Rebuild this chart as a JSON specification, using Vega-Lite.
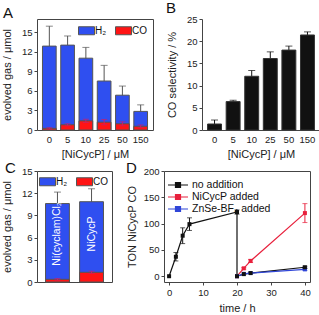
{
  "$schema": "https://vega.github.io/schema/vega-lite/v6.json",
  "padding": {"left": 0, "top": 1, "right": 0, "bottom": 0},
  "background": "white",
  "config": {
    "font": "Liberation Sans",
    "view": {"stroke": "#444", "strokeWidth": 1},
    "axis": {"labelFont": "Liberation Sans", "titleFont": "Liberation Sans", "labelFontSize": 9.5, "titleFontSize": 11, "titleFontWeight": "normal", "labelColor": "#222", "titleColor": "#222", "tickColor": "#444", "domainColor": "#444", "tickSize": 3, "labelPadding": 2, "grid": false, "labelOverlap": false},
    "title": {"fontSize": 15, "fontWeight": "normal", "anchor": "start", "frame": "group", "color": "#111", "font": "Liberation Sans"},
    "legend": {"labelFontSize": 10, "labelFont": "Liberation Sans", "labelColor": "#111"}
  },
  "datasets": {
    "a": [
      {"conc": "0", "total": 12.85, "totalErr": 3.05, "co": 0.25, "coErr": 0.1},
      {"conc": "5", "total": 13.0, "totalErr": 1.4, "co": 0.8, "coErr": 0.15},
      {"conc": "10", "total": 11.0, "totalErr": 1.65, "co": 1.4, "coErr": 0.25},
      {"conc": "25", "total": 7.5, "totalErr": 2.4, "co": 1.2, "coErr": 0.4},
      {"conc": "50", "total": 5.33, "totalErr": 1.4, "co": 0.95, "coErr": 0.3},
      {"conc": "150", "total": 2.85, "totalErr": 1.0, "co": 0.57, "coErr": 0.2}
    ],
    "b": [
      {"conc": "0", "sel": 1.35, "err": 0.9},
      {"conc": "5", "sel": 6.4, "err": 0.3},
      {"conc": "10", "sel": 12.1, "err": 1.3},
      {"conc": "25", "sel": 16.1, "err": 1.5},
      {"conc": "50", "sel": 18.0, "err": 0.9},
      {"conc": "150", "sel": 21.4, "err": 0.7}
    ],
    "c": [
      {"cat": "Ni(cyclam)Cl₂", "total": 10.6, "totalErr": 1.55, "co": 0.36, "coErr": 0.1},
      {"cat": "NiCycP", "total": 10.85, "totalErr": 1.75, "co": 1.31, "coErr": 0.15}
    ],
    "d": [
      {"series": "no addition", "i": 0, "t": 0, "ton": 0, "err": 0},
      {"series": "no addition", "i": 1, "t": 2, "ton": 37, "err": 8},
      {"series": "no addition", "i": 2, "t": 4, "ton": 77, "err": 15},
      {"series": "no addition", "i": 3, "t": 6, "ton": 99, "err": 12},
      {"series": "no addition", "i": 4, "t": 20, "ton": 122, "err": 4},
      {"series": "no addition", "i": 5, "t": 20, "ton": 0, "err": 0},
      {"series": "no addition", "i": 6, "t": 22, "ton": 4, "err": 0},
      {"series": "no addition", "i": 7, "t": 24, "ton": 6, "err": 0},
      {"series": "no addition", "i": 8, "t": 40, "ton": 17, "err": 2},
      {"series": "NiCycP added", "i": 0, "t": 20, "ton": 0, "err": 0},
      {"series": "NiCycP added", "i": 1, "t": 22, "ton": 15, "err": 1.5},
      {"series": "NiCycP added", "i": 2, "t": 24, "ton": 29, "err": 3},
      {"series": "NiCycP added", "i": 3, "t": 40, "ton": 120, "err": 18},
      {"series": "ZnSe-BF₄ added", "i": 0, "t": 20, "ton": 0, "err": 0},
      {"series": "ZnSe-BF₄ added", "i": 1, "t": 22, "ton": 4.5, "err": 0},
      {"series": "ZnSe-BF₄ added", "i": 2, "t": 24, "ton": 6, "err": 1},
      {"series": "ZnSe-BF₄ added", "i": 3, "t": 40, "ton": 13, "err": 2}
    ]
  },
  "spacing": 0,
  "resolve": {"scale": {"color": "independent", "x": "independent", "y": "independent"}, "legend": {"color": "independent"}},
  "vconcat": [
    {
      "spacing": 12,
      "resolve": {"scale": {"color": "independent", "x": "independent", "y": "independent"}, "legend": {"color": "independent"}},
      "hconcat": [
        {
          "name": "A",
          "title": {"text": "A", "dx": -34, "offset": -2},
          "width": 116, "height": 111,
          "data": {"name": "a"},
          "encoding": {
            "x": {"field": "conc", "type": "ordinal", "sort": null, "title": "[NiCycP] / μM",
                  "scale": {"paddingInner": 0.25, "paddingOuter": 0.3},
                  "axis": {"labelAngle": 0, "ticks": false, "domain": false, "labelPadding": 4, "titlePadding": 5}}
          },
          "layer": [
            {"mark": {"type": "errorbar", "ticks": {"size": 7}, "color": "#555"},
             "encoding": {"y": {"field": "total", "type": "quantitative", "title": "evolved gas / μmol", "scale": {"domain": [0, 17], "nice": false}, "axis": {"values": [0, 3, 6, 9, 12, 15], "tickCount": 20, "labelOverlap": false, "domain": false, "titlePadding": 9}}, "yError": {"field": "totalErr"}}},
            {"mark": {"type": "bar", "stroke": "#555", "strokeWidth": 1},
             "encoding": {"y": {"field": "total", "type": "quantitative", "title": "evolved gas / μmol", "scale": {"domain": [0, 17], "nice": false}, "axis": {"values": [0, 3, 6, 9, 12, 15], "tickCount": 20, "labelOverlap": false, "domain": false, "titlePadding": 9}},
                          "color": {"datum": "H₂", "type": "nominal", "scale": {"domain": ["H₂", "CO"], "range": ["#2f4ff0", "#ff1414"]},
                                    "legend": {"orient": "top-right", "direction": "horizontal", "title": null, "symbolType": "M-1.6,-0.8L1.6,-0.8L1.6,0.8L-1.6,0.8Z", "symbolSize": 100, "symbolStrokeColor": "#333", "symbolStrokeWidth": 1, "symbolOpacity": 1, "offset": 6, "columnPadding": 6, "labelOffset": 3}}}},
            {"mark": {"type": "bar", "stroke": "#555", "strokeWidth": 1},
             "encoding": {"y": {"field": "co", "type": "quantitative", "title": "evolved gas / μmol", "scale": {"domain": [0, 17], "nice": false}, "axis": {"values": [0, 3, 6, 9, 12, 15], "tickCount": 20, "labelOverlap": false, "domain": false, "titlePadding": 9}}, "color": {"datum": "CO", "type": "nominal"}}},
            {"mark": {"type": "errorbar", "ticks": {"size": 6}, "color": "#c8206a"},
             "encoding": {"y": {"field": "co", "type": "quantitative", "title": "evolved gas / μmol", "scale": {"domain": [0, 17], "nice": false}, "axis": {"values": [0, 3, 6, 9, 12, 15], "tickCount": 20, "labelOverlap": false, "domain": false, "titlePadding": 9}}, "yError": {"field": "coErr"}}}
          ]
        },
        {
          "name": "B",
          "title": {"text": "B", "dx": -36, "offset": -2},
          "width": 118, "height": 111,
          "view": {"stroke": null},
          "data": {"name": "b"},
          "encoding": {
            "x": {"field": "conc", "type": "ordinal", "sort": null, "title": "[NiCycP] / μM",
                  "scale": {"paddingInner": 0.25, "paddingOuter": 0.3},
                  "axis": {"labelAngle": 0, "ticks": false, "domain": true, "labelPadding": 4, "titlePadding": 5}}
          },
          "layer": [
            {"mark": {"type": "errorbar", "ticks": {"size": 7}, "color": "#111"},
             "encoding": {"y": {"field": "sel", "type": "quantitative", "title": "CO selectivity / %", "scale": {"domain": [0, 25], "nice": false}, "axis": {"values": [0, 5, 10, 15, 20, 25], "tickCount": 20, "labelOverlap": false, "domain": true, "titlePadding": 9}}, "yError": {"field": "err"}}},
            {"mark": {"type": "bar", "color": "#111", "stroke": "#333", "strokeWidth": 1},
             "encoding": {"y": {"field": "sel", "type": "quantitative", "title": "CO selectivity / %", "scale": {"domain": [0, 25], "nice": false}, "axis": {"values": [0, 5, 10, 15, 20, 25], "tickCount": 20, "labelOverlap": false, "domain": true, "titlePadding": 9}}}}
          ]
        }
      ]
    },
    {
      "spacing": 12,
      "resolve": {"scale": {"color": "independent", "x": "independent", "y": "independent"}, "legend": {"color": "independent"}},
      "hconcat": [
        {
          "name": "C",
          "title": {"text": "C", "dx": -32, "offset": -10},
          "width": 75, "height": 111,
          "data": {"name": "c"},
          "encoding": {
            "x": {"field": "cat", "type": "nominal", "sort": null,
                  "scale": {"paddingInner": 0.3, "paddingOuter": 0.25}, "axis": null}
          },
          "layer": [
            {"mark": {"type": "errorbar", "ticks": {"size": 7}, "color": "#555"},
             "encoding": {"y": {"field": "total", "type": "quantitative", "title": "evolved gas / μmol", "scale": {"domain": [0, 15], "nice": false}, "axis": {"values": [0, 3, 6, 9, 12, 15], "tickCount": 20, "labelOverlap": false, "domain": false, "titlePadding": 9}}, "yError": {"field": "totalErr"}}},
            {"mark": {"type": "bar", "stroke": "#555", "strokeWidth": 1},
             "encoding": {"y": {"field": "total", "type": "quantitative", "title": "evolved gas / μmol", "scale": {"domain": [0, 15], "nice": false}, "axis": {"values": [0, 3, 6, 9, 12, 15], "tickCount": 20, "labelOverlap": false, "domain": false, "titlePadding": 9}},
                          "color": {"datum": "H₂", "type": "nominal", "scale": {"domain": ["H₂", "CO"], "range": ["#2f4ff0", "#ff1414"]},
                                    "legend": {"orient": "top-left", "direction": "horizontal", "title": null, "symbolType": "M-1.6,-0.8L1.6,-0.8L1.6,0.8L-1.6,0.8Z", "symbolSize": 100, "symbolStrokeColor": "#333", "symbolStrokeWidth": 1, "symbolOpacity": 1, "offset": 5, "columnPadding": 6, "labelOffset": 3}}}},
            {"mark": {"type": "bar", "stroke": "#555", "strokeWidth": 1},
             "encoding": {"y": {"field": "co", "type": "quantitative", "title": "evolved gas / μmol", "scale": {"domain": [0, 15], "nice": false}, "axis": {"values": [0, 3, 6, 9, 12, 15], "tickCount": 20, "labelOverlap": false, "domain": false, "titlePadding": 9}}, "color": {"datum": "CO", "type": "nominal"}}},
            {"mark": {"type": "errorbar", "ticks": {"size": 6}, "color": "#c8206a"},
             "encoding": {"y": {"field": "co", "type": "quantitative", "title": "evolved gas / μmol", "scale": {"domain": [0, 15], "nice": false}, "axis": {"values": [0, 3, 6, 9, 12, 15], "tickCount": 20, "labelOverlap": false, "domain": false, "titlePadding": 9}}, "yError": {"field": "coErr"}}},
            {"mark": {"type": "text", "angle": 270, "color": "white", "fontSize": 10.5, "font": "Liberation Sans"},
             "encoding": {"y": {"datum": 6.5, "type": "quantitative"}, "text": {"field": "cat", "type": "nominal"}}}
          ]
        },
        {
          "name": "D",
          "title": {"text": "D", "dx": -38, "offset": -10},
          "width": 146, "height": 111,
          "data": {"name": "d"},
          "encoding": {
            "x": {"field": "t", "type": "quantitative", "title": "time / h", "scale": {"domain": [-1.5, 41.5], "nice": false},
                  "axis": {"values": [0, 10, 20, 30, 40], "tickCount": 20, "domain": false, "labelPadding": 2, "titlePadding": 6}},
            "y": {"field": "ton", "type": "quantitative", "title": "TON NiCycP CO", "scale": {"domain": [-11, 200], "nice": false}, "axis": {"values": [0, 50, 100, 150, 200], "tickCount": 20, "labelOverlap": false, "domain": false, "titlePadding": 6}},
            "color": {"field": "series", "type": "nominal",
                      "scale": {"domain": ["no addition", "NiCycP added", "ZnSe-BF₄ added"], "range": ["#111111", "#e8203c", "#3046d8"]}}
          },
          "layer": [
            {"transform": [{"filter": "datum.err > 0"}],
             "mark": {"type": "errorbar", "ticks": {"size": 5}},
             "encoding": {"yError": {"field": "err"}}},
            {"mark": {"type": "line", "strokeWidth": 1.2, "point": {"shape": "square", "size": 16, "filled": true}},
             "encoding": {"order": {"field": "i", "type": "quantitative"},
                          "color": {"field": "series", "type": "nominal",
                                    "legend": {"orient": "top-left", "title": null, "offset": 8, "labelFontSize": 10.5, "rowPadding": 0,
                                               "symbolType": "M-2,0L2,0M-0.5,-0.5L0.5,-0.5L0.5,0.5L-0.5,0.5Z", "symbolSize": 100, "symbolStrokeWidth": 1.2, "labelOffset": 8,
                                               "encode": {"symbols": {"update": {"fill": {"scale": "D_color", "field": "value"}, "stroke": {"scale": "D_color", "field": "value"}}}}}}}}
          ]
        }
      ]
    }
  ]
}
